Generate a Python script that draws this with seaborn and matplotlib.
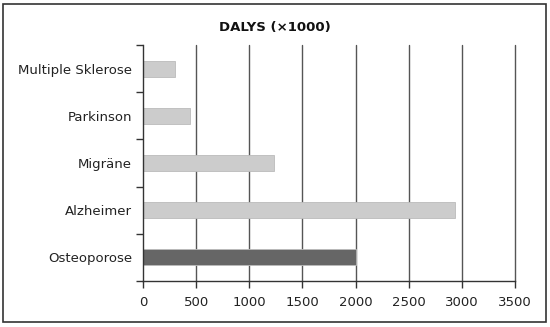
import matplotlib
matplotlib.use("Agg")
import matplotlib.pyplot as plt
import seaborn as sns
import pandas as pd
import numpy as np
from matplotlib.patches import Rectangle

categories = ["Multiple Sklerose", "Parkinson", "Migräne", "Alzheimer", "Osteoporose"]
values = [300, 445, 1230, 2940, 2000]
colors = ["#cccccc", "#cccccc", "#cccccc", "#cccccc", "#666666"]
xticks = [0, 500, 1000, 1500, 2000, 2500, 3000, 3500]
title = "DALYS (×1000)"

sns.set_theme(style="white")
plt.rcParams["font.family"] = ["DejaVu Sans"]

df = pd.DataFrame({"cat": categories, "val": values})

fig = plt.figure(figsize=(5.5, 3.27), dpi=100)
ax = fig.add_axes([143/550, 1 - 281/327, (515-143)/550, (281-45)/327])

sns.barplot(data=df, y="cat", x="val", hue="cat", palette=colors, legend=False,
            width=0.34, ax=ax, edgecolor="#bbbbbb", linewidth=0.6, orient="h")

ax.set_xlim(0, 3500)
ax.set_ylim(4.5, -0.5)
ax.set_xticks(xticks)
ax.set_xticklabels([str(t) for t in xticks], fontsize=9.5, color="#222222")
ax.set_yticks(range(len(categories)))
ax.set_yticklabels(categories, fontsize=9.5, color="#222222")
ax.set_yticks(np.arange(-0.5, len(categories), 1.0), minor=True)
ax.tick_params(axis="y", which="major", length=0, pad=8)
ax.tick_params(axis="y", which="minor", length=5, width=1, color="#333333", left=True)
ax.tick_params(axis="x", which="major", length=5, width=1, color="#333333", bottom=True, pad=6)
ax.set_xlabel("")
ax.set_ylabel("")

for t in xticks[1:]:
    ax.axvline(t, color="#555555", lw=1, zorder=0, clip_on=False)

for s in ["top", "right"]:
    ax.spines[s].set_visible(False)
for s in ["left", "bottom"]:
    ax.spines[s].set_color("#333333")
    ax.spines[s].set_linewidth(1)

fig.text(275/550, 1 - 27/327, title, ha="center", va="center",
         fontsize=9.5, fontweight="bold", color="#111111")

fig.patches.append(Rectangle((3/550, 1 - 322/327), 543/550, 318/327, transform=fig.transFigure,
                             fill=False, edgecolor="#333333", lw=1.2))

fig.savefig("out.png", dpi=100)
